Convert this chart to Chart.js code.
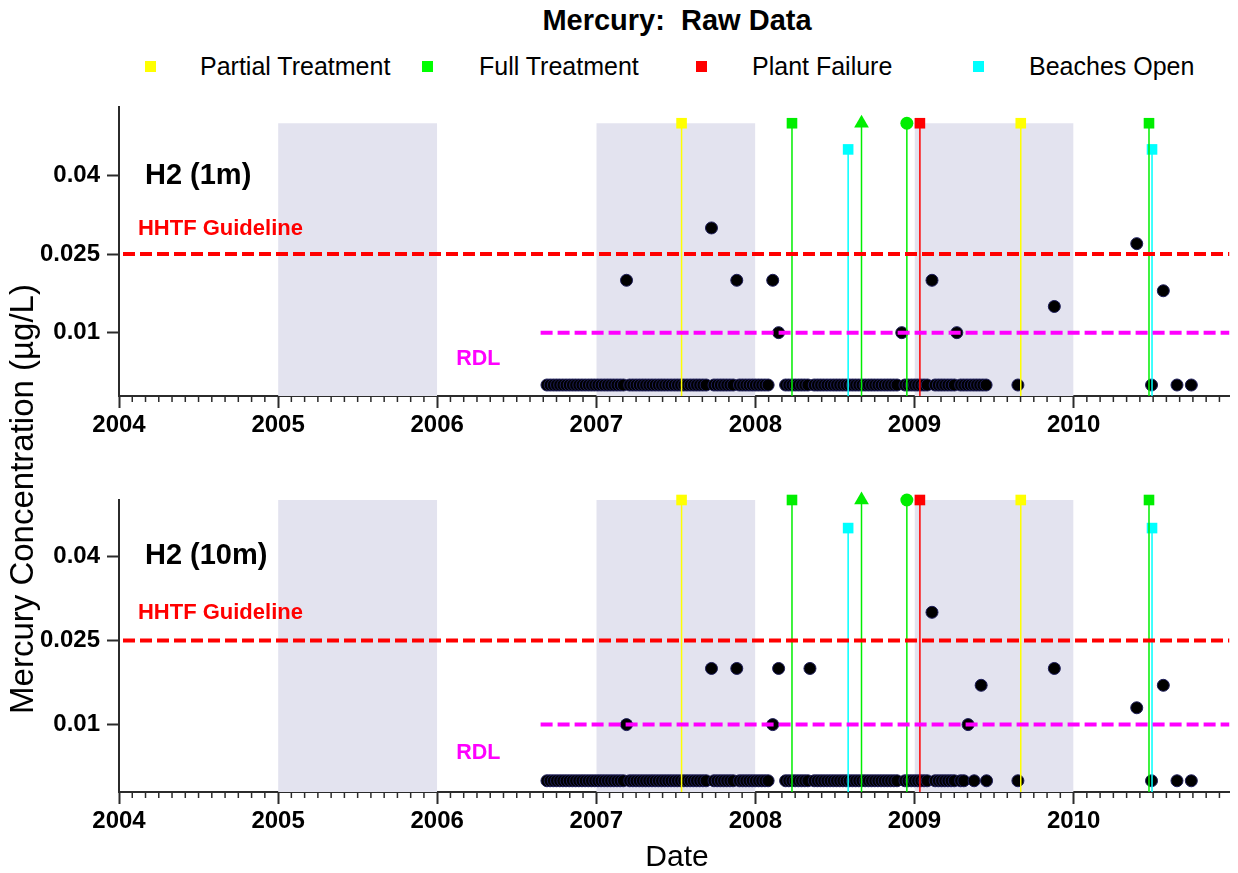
<!DOCTYPE html>
<html>
<head>
<meta charset="utf-8">
<title>Mercury: Raw Data</title>
<script src="https://cdn.jsdelivr.net/npm/chart.js@4.4.1/dist/chart.umd.min.js"></script>
<style>
    html, body { margin: 0; padding: 0; background: #fff; }
    body { position: relative; width: 1238px; height: 873px; overflow: hidden;
           font-family: "Liberation Sans", Arial, sans-serif; color: #000; }
    canvas { position: absolute; left: 0; }
    #chart-1m { top: 0; }
    #chart-10m { top: 450px; }
    .title { position: absolute; left: 119px; width: 1116px; top: 3px; text-align: center;
             font-size: 29px; font-weight: bold; white-space: pre; line-height: 34px; }
    .legend-box { position: absolute; width: 11px; height: 11px; top: 61px; }
    .legend-text { position: absolute; top: 51px; font-size: 25px; line-height: 30px; white-space: nowrap; }
    .y-title { position: absolute; left: -228px; top: 480px; width: 500px; height: 38px; line-height: 38px;
               text-align: center; font-size: 33px; transform: rotate(-90deg); white-space: nowrap; }
    .x-title { position: absolute; left: 119px; width: 1116px; top: 838px; text-align: center;
               font-size: 30px; line-height: 36px; }
</style>
</head>
<body>
<div class="title">Mercury:  Raw Data</div>

<div class="legend-box" style="left:145px; background:#FFFF00;"></div>
<div class="legend-text" style="left:200px;">Partial Treatment</div>
<div class="legend-box" style="left:422px; background:#00FF00;"></div>
<div class="legend-text" style="left:479px;">Full Treatment</div>
<div class="legend-box" style="left:696px; background:#FF0000;"></div>
<div class="legend-text" style="left:752px;">Plant Failure</div>
<div class="legend-box" style="left:973px; background:#00FFFF;"></div>
<div class="legend-text" style="left:1029px;">Beaches Open</div>

<canvas id="chart-1m" width="1238" height="450"></canvas>
<canvas id="chart-10m" width="1238" height="423"></canvas>

<div class="y-title">Mercury Concentration (&micro;g/L)</div>
<div class="x-title">Date</div>

<script>
// Axis ranges and ticks
const xMin = 2004;
const xMax = 2010.98;
const yearTicks = [2004, 2005, 2006, 2007, 2008, 2009, 2010];
const yTicks = [0.01, 0.025, 0.04];

// Shaded years (alternate bands)
const shadedYears = [[2005, 2006], [2007, 2008], [2009, 2010]];
const shadeTop = 0.05;

// Reference lines
const hhtfGuideline = 0.025;
const hhtfStart = 2004.025;
const rdl = 0.01;
const rdlStart = 2006.65;

// Events (decimal year)
const partialTreatment = [2007.536, 2009.668];
const fullTreatment = [2008.23, 2010.474];
const fullTreatmentTriangle = [2008.667];
const fullTreatmentCircle = [2008.952];
const plantFailure = [2009.034];
const beachesOpen = [2008.583, 2010.493];
const eventLevel = 0.05;
const beachLevel = 0.045;

// Non-detects (plotted at 0), shared sampling dates
const ndDatesShared = [
    2006.69, 2006.71, 2006.73, 2006.75, 2006.77, 2006.79, 2006.81, 2006.83, 2006.85, 2006.87,
    2006.89, 2006.91, 2006.93, 2006.95, 2006.97, 2006.99, 2007.01, 2007.03, 2007.05, 2007.07,
    2007.09, 2007.11, 2007.13, 2007.15, 2007.17, 2007.21, 2007.23, 2007.25, 2007.27, 2007.29,
    2007.31, 2007.33, 2007.35, 2007.37, 2007.39, 2007.41, 2007.43, 2007.45, 2007.47, 2007.49,
    2007.51, 2007.53, 2007.55, 2007.57, 2007.59, 2007.61, 2007.63, 2007.65, 2007.67, 2007.69,
    2007.74, 2007.76, 2007.78, 2007.80, 2007.82, 2007.84, 2007.86, 2007.90, 2007.92, 2007.94,
    2007.96, 2007.98, 2008.00, 2008.02, 2008.04, 2008.06, 2008.08,
    2008.19, 2008.21, 2008.23, 2008.25, 2008.27, 2008.29, 2008.31, 2008.33, 2008.37, 2008.39,
    2008.41, 2008.43, 2008.45, 2008.47, 2008.49, 2008.51, 2008.53, 2008.55, 2008.57, 2008.59,
    2008.61, 2008.63, 2008.65, 2008.67, 2008.69, 2008.71, 2008.73, 2008.75, 2008.77, 2008.79,
    2008.81, 2008.83, 2008.85, 2008.87, 2008.89, 2008.94, 2008.96, 2008.98, 2009.00, 2009.02,
    2009.04, 2009.06, 2009.08, 2009.13, 2009.15, 2009.17, 2009.19, 2009.21, 2009.23, 2009.25
];
const ndTail1m = [2009.29, 2009.31, 2009.33, 2009.35, 2009.37, 2009.39, 2009.41, 2009.43, 2009.45,
                  2009.65, 2010.49, 2010.65, 2010.74];
const ndTail10m = [2009.29, 2009.31, 2009.375, 2009.453, 2009.65, 2010.49, 2010.65, 2010.74];

// Detected values, H2 (1m)
const det1mDates = [2007.19, 2007.724, 2007.883, 2008.109, 2008.146, 2008.92, 2009.11, 2009.266, 2009.879, 2010.397, 2010.564];
const det1mValues = [0.02, 0.03, 0.02, 0.02, 0.01, 0.01, 0.02, 0.01, 0.015, 0.027, 0.018];

// Detected values, H2 (10m)
const det10mDates = [2007.19, 2007.724, 2007.883, 2008.109, 2008.146, 2008.343, 2009.11, 2009.337, 2009.419, 2009.879, 2010.397, 2010.564];
const det10mValues = [0.01, 0.02, 0.02, 0.01, 0.02, 0.02, 0.03, 0.01, 0.017, 0.02, 0.013, 0.017];

const FONT = '"Liberation Sans", Arial, sans-serif';
const AXIS_COLOR = '#2b2b2b';

/**
 * Draw the short monthly ticks under the x axis
 */
const minorTicks = {
    id: 'minorTicks',
    afterDraw(chart) {
        const { ctx, chartArea, scales: { x } } = chart;
        ctx.save();
        ctx.strokeStyle = AXIS_COLOR;
        ctx.lineWidth = 1.5;
        for (let m = 1; xMin + m / 12 < xMax; m++) {
            if (m % 12 === 0) continue;
            const px = x.getPixelForValue(xMin + m / 12);
            ctx.beginPath();
            ctx.moveTo(px, chartArea.bottom);
            ctx.lineTo(px, chartArea.bottom + 6);
            ctx.stroke();
        }
        ctx.restore();
    }
};

/**
 * Panel annotations placed in data coordinates
 */
const panelText = {
    id: 'panelText',
    afterDatasetsDraw(chart, args, opts) {
        const { ctx, scales: { x, y } } = chart;
        ctx.save();
        ctx.textAlign = 'left';
        ctx.textBaseline = 'middle';
        (opts.items || []).forEach(it => {
            ctx.font = it.font;
            ctx.fillStyle = it.color;
            ctx.fillText(it.text, x.getPixelForValue(it.x), y.getPixelForValue(it.y));
        });
        ctx.restore();
    }
};

function eventLine(x, level, color, style, radius, yMin) {
    return {
        data: [{ x: x, y: yMin }, { x: x, y: level }],
        borderColor: color,
        borderWidth: 1.5,
        pointRadius: [0, radius],
        pointStyle: style,
        pointBackgroundColor: color,
        pointBorderColor: color,
        pointBorderWidth: 0,
        clip: false,
        order: 2
    };
}

function buildDatasets(ndDates, detDates, detValues, yMin) {
    const sets = [];

    // Shaded years
    shadedYears.forEach(([a, b]) => {
        sets.push({
            data: [{ x: a, y: shadeTop }, { x: b, y: shadeTop }],
            fill: 'start',
            backgroundColor: 'rgb(227, 227, 239)',
            borderColor: 'rgba(0,0,0,0)',
            borderWidth: 0,
            pointRadius: 0,
            clip: false,
            order: 9
        });
    });

    // Samples
    const points = ndDates.map(d => ({ x: d, y: 0 }))
        .concat(detDates.map((d, i) => ({ x: d, y: detValues[i] })));
    sets.push({
        data: points,
        showLine: false,
        pointRadius: 6,
        pointBackgroundColor: '#000000',
        pointBorderColor: '#1e1e5a',
        pointBorderWidth: 1,
        order: 3
    });

    // Events
    partialTreatment.forEach(d => sets.push(eventLine(d, eventLevel, '#FFFF00', 'rect', 7.5, yMin)));
    fullTreatment.forEach(d => sets.push(eventLine(d, eventLevel, '#00EE00', 'rect', 7.5, yMin)));
    fullTreatmentTriangle.forEach(d => sets.push(eventLine(d, eventLevel, '#00EE00', 'triangle', 8.5, yMin)));
    fullTreatmentCircle.forEach(d => sets.push(eventLine(d, eventLevel, '#00EE00', 'circle', 6.5, yMin)));
    plantFailure.forEach(d => sets.push(eventLine(d, eventLevel, '#FF0000', 'rect', 7.5, yMin)));
    beachesOpen.forEach(d => sets.push(eventLine(d, beachLevel, '#00FFFF', 'rect', 7.5, yMin)));

    // Reference lines
    sets.push({
        data: [{ x: hhtfStart, y: hhtfGuideline }, { x: xMax, y: hhtfGuideline }],
        borderColor: '#FF0000', borderWidth: 4, borderDash: [12, 5], pointRadius: 0, order: 1
    });
    sets.push({
        data: [{ x: rdlStart, y: rdl }, { x: xMax, y: rdl }],
        borderColor: '#FF00FF', borderWidth: 4, borderDash: [12, 5], pointRadius: 0, order: 1
    });
    return sets;
}

function makeChart(canvasId, cfg) {
    const ctx = document.getElementById(canvasId).getContext('2d');
    return new Chart(ctx, {
        type: 'line',
        data: { datasets: buildDatasets(cfg.ndDates, cfg.detDates, cfg.detValues, cfg.yMin) },
        options: {
            responsive: false,
            animation: false,
            devicePixelRatio: 1,
            events: [],
            layout: { padding: { top: cfg.padTop, right: 0, left: 0, bottom: 0 } },
            plugins: {
                legend: { display: false },
                tooltip: { enabled: false },
                panelText: { items: cfg.labels }
            },
            scales: {
                x: {
                    type: 'linear',
                    min: xMin,
                    max: xMax,
                    afterBuildTicks: s => { s.ticks = yearTicks.map(v => ({ value: v })); },
                    afterFit: s => { s.height = cfg.xAxisHeight; },
                    ticks: {
                        autoSkip: false, maxRotation: 0, padding: 3, color: '#000',
                        font: { family: FONT, size: 24, weight: 'bold' },
                        callback: v => String(v)
                    },
                    grid: { drawOnChartArea: false, drawTicks: true, tickLength: 12, tickColor: AXIS_COLOR, tickWidth: 2 },
                    border: { display: true, color: AXIS_COLOR, width: 2 }
                },
                y: {
                    type: 'linear',
                    min: cfg.yMin,
                    max: cfg.yMax,
                    afterBuildTicks: s => { s.ticks = yTicks.map(v => ({ value: v })); },
                    afterFit: s => { s.width = 119; },
                    ticks: {
                        padding: 7, color: '#000',
                        font: { family: FONT, size: 24, weight: 'bold' },
                        callback: v => String(v)
                    },
                    grid: { drawOnChartArea: false, drawTicks: true, tickLength: 12, tickColor: AXIS_COLOR, tickWidth: 2 },
                    border: { display: true, color: AXIS_COLOR, width: 2 }
                }
            }
        },
        plugins: [minorTicks, panelText]
    });
}

function panelLabels(site) {
    return [
        { text: site, x: 2004.163, y: 0.04, font: 'bold 29px ' + FONT, color: '#000' },
        { text: 'HHTF Guideline', x: 2004.119, y: 0.0298, font: 'bold 22px ' + FONT, color: '#FF0000' },
        { text: 'RDL', x: 2006.119, y: 0.0049, font: 'bold 21.5px ' + FONT, color: '#FF00FF' }
    ];
}

makeChart('chart-1m', {
    ndDates: ndDatesShared.concat(ndTail1m),
    detDates: det1mDates,
    detValues: det1mValues,
    yMin: -0.0021,
    yMax: 0.0531,
    padTop: 107,
    xAxisHeight: 54,
    labels: panelLabels('H2 (1m)')
});

makeChart('chart-10m', {
    ndDates: ndDatesShared.concat(ndTail10m),
    detDates: det10mDates,
    detValues: det10mValues,
    yMin: -0.002,
    yMax: 0.05,
    padTop: 50,
    xAxisHeight: 81,
    labels: panelLabels('H2 (10m)')
});
</script>
</body>
</html>
